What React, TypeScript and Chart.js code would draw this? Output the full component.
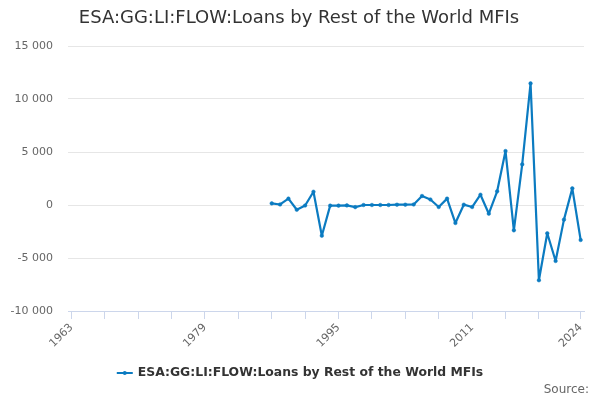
import React, { useEffect, useRef } from "react";
import { Chart, registerables } from "chart.js";

Chart.register(...registerables);

const TITLE = "ESA:GG:LI:FLOW:Loans by Rest of the World MFIs";
const SERIES_LABEL = "ESA:GG:LI:FLOW:Loans by Rest of the World MFIs";
const SOURCE_TEXT = "Source:";

const years: number[] = [
  1987, 1988, 1989, 1990, 1991, 1992, 1993, 1994, 1995, 1996,
  1997, 1998, 1999, 2000, 2001, 2002, 2003, 2004, 2005, 2006,
  2007, 2008, 2009, 2010, 2011, 2012, 2013, 2014, 2015, 2016,
  2017, 2018, 2019, 2020, 2021, 2022, 2023, 2024,
];

const values: number[] = [
  150, 50, 600, -450, -50, 1250, -2900, -60, -60, -40,
  -200, 0, 0, 0, 0, 30, 30, 50, 850, 520,
  -190, 600, -1700, 30, -190, 970, -820, 1290, 5090, -2390,
  3830, 11470, -7100, -2670, -5280, -1380, 1570, -3300,
];

const xTickValues: number[] = [
  1963, 1967, 1971, 1975, 1979, 1983, 1987, 1991, 1995, 1999,
  2003, 2007, 2011, 2015, 2019, 2024,
];
const xLabelValues: number[] = [1963, 1979, 1995, 2011, 2024];
const yTickValues: number[] = [-10000, -5000, 0, 5000, 10000, 15000];

const LINE_COLOR = "#0b7bc1";
const FONT = '"DejaVu Sans", sans-serif';

function fmt(v: number): string {
  const s = Math.abs(v).toString().replace(/\B(?=(\d{3})+(?!\d))/g, " ");
  return (v < 0 ? "-" : "") + s;
}

const overlayPlugin = {
  id: "overlay",
  afterDraw(chart: any) {
    const ctx = chart.ctx;
    ctx.save();
    // title
    ctx.font = `18px ${FONT}`;
    ctx.fillStyle = "#333333";
    ctx.textAlign = "center";
    ctx.textBaseline = "middle";
    ctx.fillText(TITLE, 299, 18);

    // legend
    const ds = chart.data.datasets[0];
    ctx.font = `bold 12.4px ${FONT}`;
    const tw = ctx.measureText(ds.label).width;
    const markerW = 16;
    const gap = 5;
    const total = markerW + gap + tw;
    const lx = 300 - total / 2;
    const ly = 373;
    ctx.strokeStyle = ds.borderColor;
    ctx.lineWidth = 2;
    ctx.beginPath();
    ctx.moveTo(lx, ly);
    ctx.lineTo(lx + markerW, ly);
    ctx.stroke();
    ctx.fillStyle = ds.borderColor;
    ctx.beginPath();
    ctx.arc(lx + markerW / 2, ly, 2, 0, Math.PI * 2);
    ctx.fill();
    ctx.fillStyle = "#333333";
    ctx.textAlign = "left";
    ctx.fillText(ds.label, lx + markerW + gap, ly);

    // source
    ctx.font = `12px ${FONT}`;
    ctx.fillStyle = "#666666";
    ctx.textAlign = "right";
    ctx.fillText(SOURCE_TEXT, 589, 390);
    ctx.restore();
  },
};

export default function App() {
  const ref = useRef<HTMLCanvasElement | null>(null);

  useEffect(() => {
    if (!ref.current) return;
    const chart = new Chart(ref.current, {
      type: "line",
      data: {
        datasets: [
          {
            label: SERIES_LABEL,
            data: years.map((y, i) => ({ x: y, y: values[i] })),
            borderColor: LINE_COLOR,
            backgroundColor: LINE_COLOR,
            borderWidth: 2.2,
            borderJoinStyle: "round",
            pointRadius: 1.8,
            pointBorderWidth: 0.5,
            pointHoverRadius: 1.8,
            tension: 0,
          },
        ],
      },
      options: {
        animation: false,
        responsive: false,
        devicePixelRatio: 1,
        layout: { padding: { top: 46, right: 16, bottom: 0, left: 0 } },
        plugins: {
          legend: { display: false },
          title: { display: false },
          tooltip: { enabled: false },
        },
        scales: {
          x: {
            type: "linear",
            min: 1962.6,
            max: 2024.4,
            afterBuildTicks: (axis: any) => {
              axis.ticks = xTickValues.map((v) => ({ value: v }));
            },
            afterFit: (axis: any) => {
              axis.height = 89;
            },
            ticks: {
              autoSkip: false,
              minRotation: 45,
              maxRotation: 45,
              color: "#666666",
              font: { family: FONT, size: 11 },
              padding: 2,
              callback: (v: any) => (xLabelValues.includes(Number(v)) ? String(v) : ""),
            },
            grid: {
              drawOnChartArea: false,
              drawTicks: true,
              tickLength: 8,
              color: "#ccd6eb",
            },
            border: { color: "#ccd6eb", width: 1 },
          },
          y: {
            type: "linear",
            min: -10000,
            max: 15000,
            afterBuildTicks: (axis: any) => {
              axis.ticks = yTickValues.map((v) => ({ value: v }));
            },
            afterFit: (axis: any) => {
              axis.width = 68;
            },
            ticks: {
              color: "#666666",
              font: { family: FONT, size: 11 },
              padding: 15,
              callback: (v: any) => fmt(Number(v)),
            },
            grid: { color: "#e6e6e6", drawTicks: false },
            border: { display: false },
          },
        },
      },
      plugins: [overlayPlugin],
    });
    return () => chart.destroy();
  }, []);

  return (
    <div style={{ position: "fixed", left: 0, top: 0, width: 600, height: 400, background: "#fff" }}>
      <canvas ref={ref} width={600} height={400} />
    </div>
  );
}
